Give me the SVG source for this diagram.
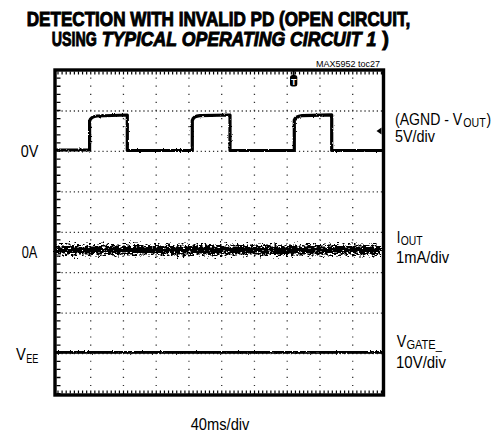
<svg xmlns="http://www.w3.org/2000/svg" width="493" height="436" viewBox="0 0 493 436">
<style>
  .t{font-family:"Liberation Sans",Arial,sans-serif;fill:#000}
  .ttl{font-family:"Liberation Sans",Arial,sans-serif;font-weight:bold;font-size:21px;fill:#000;stroke:#000;stroke-width:1}
  .lbl{font-size:16px}
  .sub{font-size:12.5px}
  .gv{stroke:#333;stroke-width:1.3;stroke-dasharray:1.2 6.89;fill:none}
  .gh{stroke:#333;stroke-width:1.3;stroke-dasharray:1.2 2.894;fill:none}
  .tr{fill:none;stroke:#000;stroke-linejoin:round}
</style>
<defs>
  <filter id="noise" filterUnits="userSpaceOnUse" x="0" y="200" width="493" height="100">
    <feTurbulence type="fractalNoise" baseFrequency="0.35 0.6" numOctaves="3" seed="3" result="n"/>
    <feDisplacementMap in="SourceGraphic" in2="n" scale="15" xChannelSelector="R" yChannelSelector="G"/>
  </filter>
  <filter id="noise2" filterUnits="userSpaceOnUse" x="0" y="60" width="493" height="340">
    <feTurbulence type="fractalNoise" baseFrequency="0.5 0.8" numOctaves="2" seed="7" result="n"/>
    <feDisplacementMap in="SourceGraphic" in2="n" scale="2.5" xChannelSelector="R" yChannelSelector="G"/>
  </filter>
</defs>
<rect width="493" height="436" fill="#fff"/>

<g id="title">
  <text class="ttl" transform="translate(26.7,26) scale(0.815,1)">DETECTION WITH INVALID PD (OPEN CIRCUIT,</text>
  <text class="ttl" transform="translate(51.7,45.5) scale(0.677,1)">USING</text>
  <text class="ttl" font-style="italic" transform="translate(101.7,45.5) scale(0.84,1)">TYPICAL OPERATING CIRCUIT 1</text>
  <text class="ttl" transform="translate(382.3,45.5) scale(0.95,1)">)</text>
  <text class="t" font-size="9.5" transform="translate(316,66.5) scale(0.95,1)">MAX5952 toc27</text>
</g>

<g id="graticule">
  <g class="gv">
    <line x1="90.7" y1="77.5" x2="90.7" y2="394"/>
    <line x1="123.45" y1="77.5" x2="123.45" y2="394"/>
    <line x1="156.2" y1="77.5" x2="156.2" y2="394"/>
    <line x1="188.95" y1="77.5" x2="188.95" y2="394"/>
    <line x1="221.7" y1="77.5" x2="221.7" y2="394"/>
    <line x1="254.45" y1="77.5" x2="254.45" y2="394"/>
    <line x1="287.2" y1="77.5" x2="287.2" y2="394"/>
    <line x1="319.95" y1="77.5" x2="319.95" y2="394"/>
    <line x1="352.7" y1="77.5" x2="352.7" y2="394"/>
  </g>
  <g class="gh">
    <line x1="57.4" y1="111" x2="382" y2="111"/>
    <line x1="57.4" y1="151.4" x2="382" y2="151.4"/>
    <line x1="57.4" y1="191.9" x2="382" y2="191.9"/>
    <line x1="57.4" y1="232.3" x2="382" y2="232.3"/>
    <line x1="57.4" y1="272.7" x2="382" y2="272.7"/>
    <line x1="57.4" y1="313.2" x2="382" y2="313.2"/>
    <line x1="57.4" y1="353.6" x2="382" y2="353.6"/>
  </g>
  <line x1="58.5" y1="77.5" x2="58.5" y2="394" stroke="#000" stroke-width="4" stroke-dasharray="1.3 6.79"/>
  <line x1="57.4" y1="73" x2="382" y2="73" stroke="#000" stroke-width="3" stroke-dasharray="1.2 2.894"/>
  <line x1="57.4" y1="392" x2="382" y2="392" stroke="#000" stroke-width="3" stroke-dasharray="1.2 2.894"/>
  <rect x="55" y="70" width="328.5" height="325" fill="none" stroke="#000" stroke-width="3.4"/>
  <rect x="292.6" y="70" width="2" height="6" fill="#000"/>
  <rect x="290" y="75" width="7.3" height="11.5" rx="2.5" fill="#000"/>
  <text class="t" x="293.65" y="84.6" font-size="9" font-weight="bold" text-anchor="middle" style="fill:#fff">T</text>
  <polygon points="376.5,131 381.5,127.5 381.5,134.5" fill="#000"/>
</g>

<g id="traces">
  <path class="tr" stroke-width="3.2" filter="url(#noise2)" d="M56,150 H89.6 V121 C90.5,117.5 93,116.5 97,116 L127.3,115 V150.5 H192.3 V120.5 C193.2,117 196,116 200,115.7 L230,115 V150.5 H294.3 V120 C295.2,117 298,116 302,115.6 L331.7,114.8 V150.5 H382"/>
  <rect x="56" y="245.5" width="326" height="9" fill="#000" filter="url(#noise)"/>
  <rect x="56" y="351" width="326" height="2.8" fill="#000" filter="url(#noise2)"/>
</g>

<g id="labels" class="t">
  <text class="lbl" transform="translate(20.7,156.8) scale(0.9,1)">0V</text>
  <text class="lbl" transform="translate(21.7,257.5) scale(0.8,1)">0A</text>
  <text class="lbl" transform="translate(16,360) scale(0.92,1)">V</text>
  <text class="t" font-size="12" transform="translate(26.2,363) scale(0.76,1)">EE</text>
  <text class="lbl" transform="translate(395,124.5) scale(0.88,1)">(AGND - V</text>
  <text class="sub" transform="translate(463.3,126.5) scale(0.85,1)">OUT</text>
  <text class="lbl" transform="translate(486.6,124.5) scale(0.86,1)">)</text>
  <text class="lbl" transform="translate(395,141.5) scale(0.9,1)">5V/div</text>
  <text class="lbl" transform="translate(396.7,242.5) scale(0.81,1)">I</text>
  <text class="sub" transform="translate(400.7,244.5) scale(0.83,1)">OUT</text>
  <text class="lbl" transform="translate(396,263) scale(0.92,1)">1mA/div</text>
  <text class="lbl" transform="translate(396.7,346.7) scale(0.89,1)">V</text>
  <text class="sub" transform="translate(406.4,349.2) scale(0.885,1)">GATE_</text>
  <text class="lbl" transform="translate(396,367.7) scale(0.936,1)">10V/div</text>
  <text class="lbl" transform="translate(190.7,430) scale(0.917,1)">40ms/div</text>
</g>
</svg>
